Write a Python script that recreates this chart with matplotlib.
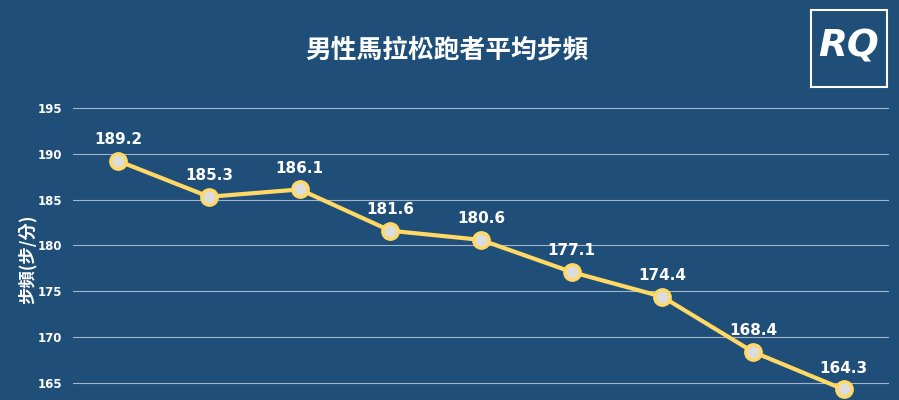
import matplotlib
matplotlib.use("Agg")
import matplotlib.pyplot as plt
from matplotlib.patches import Rectangle

# --- DATA ---
cadence = [189.2, 185.3, 186.1, 181.6, 180.6, 177.1, 174.4, 168.4, 164.3]
y_ticks = [165, 170, 175, 180, 185, 190, 195]
title = "男性馬拉松跑者平均步頻"
y_label = "步頻(步/分)"

BG = "#1f4e79"
LINE = "#ffd966"
plt.rcParams['font.family'] = ['Noto Sans CJK TC', 'DejaVu Sans']

fig = plt.figure(figsize=(8.99, 4.0), dpi=100, facecolor=BG)
ax = fig.add_axes([73 / 899, 0.0, (889 - 73) / 899, 306 / 400])
ax.set_facecolor(BG)

x = list(range(len(cadence)))
ax.plot(x, cadence, color=LINE, linewidth=3, marker="o", markersize=11,
        markerfacecolor="#dcdcdc", markeredgecolor=LINE, markeredgewidth=2.5,
        zorder=3, clip_on=False)

for xi, v in zip(x, cadence):
    ax.annotate(f"{v:.1f}", (xi, v), xytext=(0, 10), textcoords="offset points",
                ha="center", va="bottom", color="white", fontsize=11,
                fontweight="bold", family=["DejaVu Sans"])

ax.set_xlim(-0.5, len(cadence) - 0.5)
ax.set_ylim(163.15, 196.5)
ax.set_yticks(y_ticks)
ax.set_yticklabels([str(t) for t in y_ticks], color="white", fontsize=8.5,
                   fontweight="bold", family=["DejaVu Sans"])
ax.set_xticks([])
ax.tick_params(axis="y", length=0, pad=8)
ax.grid(axis="y", color="#a3b5c8", linewidth=0.8)
for s in ax.spines.values():
    s.set_visible(False)

ax.set_ylabel(y_label, color="white", fontsize=12.5, fontweight="bold")
ax.yaxis.set_label_coords((37 - 73) / 816, (400 - 259) / 306)

fig.text(447 / 899, 1 - 50 / 400, title, color="white", fontsize=18.5,
         fontweight="semibold", ha="center", va="center")

# RQ logo box
fig.patches.append(Rectangle((811 / 899, 1 - 87 / 400), 76 / 899, 77 / 400,
                             transform=fig.transFigure, fill=False,
                             edgecolor="white", linewidth=1.5))
fig.text(849 / 899, 1 - 47 / 400, "RQ", color="white", fontsize=27,
         fontweight="bold", style="italic", ha="center", va="center",
         family=["DejaVu Sans"])

fig.savefig("out.png", dpi=100, facecolor=BG)
